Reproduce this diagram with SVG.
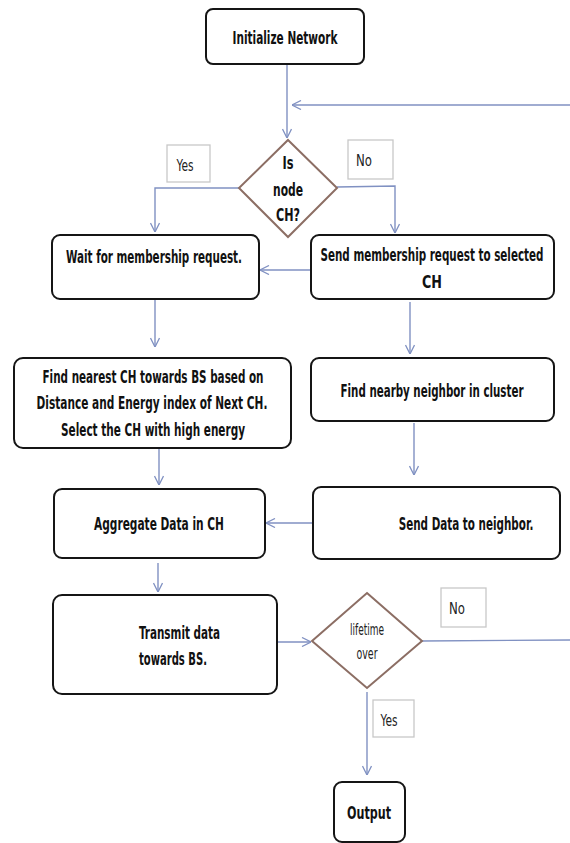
<svg xmlns="http://www.w3.org/2000/svg" width="570" height="843" viewBox="0 0 570 843">
<style>
.box{fill:#fff;stroke:#151515;stroke-width:2}
.dia{fill:#fff;stroke:#8c6e64;stroke-width:2}
.lbl{fill:#fff;stroke:#c8c8c8;stroke-width:1.3}
.con{fill:none;stroke:#8091c2;stroke-width:1.4}
.t{font-family:"DejaVu Sans Condensed","Liberation Sans",sans-serif;font-weight:bold;font-size:17px;fill:#111;text-anchor:middle}
.s{text-anchor:start}
.n{font-family:"DejaVu Sans Condensed","Liberation Sans",sans-serif;font-size:15px;fill:#222;text-anchor:middle}
</style>
<defs>
<marker id="arr" viewBox="0 0 10 10" refX="10" refY="5" markerWidth="10" markerHeight="10" markerUnits="userSpaceOnUse" orient="auto">
<path d="M1,0.5 L10,5 L1,9.5" fill="none" stroke="#8091c2" stroke-width="1.3"/>
</marker>
</defs>
<rect width="570" height="843" fill="#fff"/>
<g id="connectors">
<path class="con" d="M287,57 V138" marker-end="url(#arr)"/>
<path class="con" d="M570,105 H292" marker-end="url(#arr)"/>
<path class="con" d="M239,188 H155 V232" marker-end="url(#arr)"/>
<path class="con" d="M337,187 L395,186 V233" marker-end="url(#arr)"/>
<path class="con" d="M311,270 H260" marker-end="url(#arr)"/>
<path class="con" d="M155,283 V347" marker-end="url(#arr)"/>
<path class="con" d="M410,302 V354" marker-end="url(#arr)"/>
<path class="con" d="M159,448 V485" marker-end="url(#arr)"/>
<path class="con" d="M414,423 V475" marker-end="url(#arr)"/>
<path class="con" d="M313,523 H266" marker-end="url(#arr)"/>
<path class="con" d="M158,563 V592" marker-end="url(#arr)"/>
<path class="con" d="M277,642 H311" marker-end="url(#arr)"/>
<path class="con" d="M422,641 L570,640"/>
<path class="con" d="M367,692 V775" marker-end="url(#arr)"/>
</g>
<g id="init">
<rect class="box" x="206" y="9" width="158" height="55" rx="7"/>
<text class="t" x="285" y="44" textLength="105" lengthAdjust="spacingAndGlyphs">Initialize Network</text>
</g>
<g id="isch">
<polygon class="dia" points="288,140 337,188 288,237 239,188"/>
<text class="t" x="288" y="169" textLength="11" lengthAdjust="spacingAndGlyphs">Is</text>
<text class="t" x="288" y="196" textLength="30" lengthAdjust="spacingAndGlyphs">node</text>
<text class="t" x="288" y="221" textLength="24" lengthAdjust="spacingAndGlyphs">CH?</text>
</g>
<g id="label-yes-1">
<rect class="lbl" x="167" y="145" width="43" height="37"/>
<text class="n" x="185" y="171" textLength="17" lengthAdjust="spacingAndGlyphs">Yes</text>
</g>
<g id="label-no-1">
<rect class="lbl" x="348" y="140" width="45" height="39"/>
<text class="n" x="364" y="166" textLength="16" lengthAdjust="spacingAndGlyphs">No</text>
</g>
<g id="wait">
<rect class="box" x="52" y="235" width="207" height="64" rx="8"/>
<text class="t" x="154" y="263" textLength="176" lengthAdjust="spacingAndGlyphs">Wait for membership request.</text>
</g>
<g id="send">
<rect class="box" x="311" y="235" width="243" height="64" rx="8"/>
<text class="t" transform="translate(432,261) scale(0.68,1)" x="0" y="0" textLength="328" lengthAdjust="spacingAndGlyphs">Send membership request to selected</text>
<text class="t" x="432" y="288" textLength="20" lengthAdjust="spacingAndGlyphs">CH</text>
</g>
<g id="findnearest">
<rect class="box" x="14" y="358" width="277" height="90" rx="9"/>
<text class="t" x="153" y="383" textLength="221" lengthAdjust="spacingAndGlyphs">Find nearest CH towards BS based on</text>
<text class="t" x="152" y="409" textLength="231" lengthAdjust="spacingAndGlyphs">Distance and Energy index of Next CH.</text>
<text class="t" x="153" y="436" textLength="184" lengthAdjust="spacingAndGlyphs">Select the CH with high energy</text>
</g>
<g id="findnearby">
<rect class="box" x="311" y="358" width="243" height="63" rx="8"/>
<text class="t" transform="translate(432,397) scale(0.68,1)" x="0" y="0" textLength="269" lengthAdjust="spacingAndGlyphs">Find nearby neighbor in cluster</text>
</g>
<g id="aggregate">
<rect class="box" x="54" y="489" width="211" height="69" rx="8"/>
<text class="t" x="159" y="530" textLength="130" lengthAdjust="spacingAndGlyphs">Aggregate Data in CH</text>
</g>
<g id="senddata">
<rect class="box" x="313" y="487" width="247" height="72" rx="8"/>
<text class="t" transform="translate(466,530) scale(0.68,1)" x="0" y="0" textLength="198" lengthAdjust="spacingAndGlyphs">Send Data to neighbor.</text>
</g>
<g id="transmit">
<rect class="box" x="53" y="595" width="224" height="99" rx="9"/>
<text class="t s" x="139" y="639" textLength="81" lengthAdjust="spacingAndGlyphs">Transmit data</text>
<text class="t s" x="139" y="665" textLength="68" lengthAdjust="spacingAndGlyphs">towards BS.</text>
</g>
<g id="lifetime">
<polygon class="dia" points="367,593 422,641 367,688 312,641"/>
<text class="n" x="367" y="635" textLength="34" lengthAdjust="spacingAndGlyphs">lifetime</text>
<text class="n" x="367" y="659" textLength="21" lengthAdjust="spacingAndGlyphs">over</text>
</g>
<g id="label-no-2">
<rect class="lbl" x="441" y="588" width="45" height="39"/>
<text class="n" x="457" y="614" textLength="16" lengthAdjust="spacingAndGlyphs">No</text>
</g>
<g id="label-yes-2">
<rect class="lbl" x="373" y="700" width="41" height="37"/>
<text class="n" x="389" y="726" textLength="17" lengthAdjust="spacingAndGlyphs">Yes</text>
</g>
<g id="output">
<rect class="box" x="334" y="782" width="71" height="60" rx="8"/>
<text class="t" x="369" y="819" textLength="44" lengthAdjust="spacingAndGlyphs">Output</text>
</g>
</svg>
